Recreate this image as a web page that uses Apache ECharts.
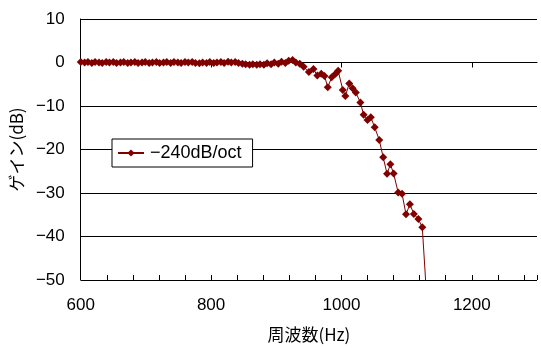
<!DOCTYPE html>
<html><head><meta charset="utf-8">
<script src="https://cdn.jsdelivr.net/npm/echarts@6/dist/echarts.min.js"></script>
<style>html,body{margin:0;padding:0;background:#fff}#c{width:541px;height:349px}</style>
</head><body><div id="c"></div>
<script>
const seriesName = '−240dB/oct';
const freqHz = [600,606,611,617,622,628,633,639,644,650,655,661,666,672,677,683,688,694,699,705,710,716,721,727,732,738,743,749,754,760,765,771,776,782,787,793,798,804,809,815,820,826,831,837,842,848,853,859,864,870,875,881,886,892,897,903,908,914,919,925,930,936,
942,950,957,963,969,974,979,985,991,995,1002,1006,1012,1017,1022,1029,1034,1040,1045,1051,1058,1064,1070,1075,1080,1087,1093,1099,1105,1111,1118,1124,1132];
const gainDb = [0.1,0.0,0.1,-0.1,0.1,0.0,-0.1,0.1,0.0,0.1,-0.1,0.0,0.1,-0.1,0.0,0.1,-0.1,0.0,0.1,-0.1,0.0,0.1,-0.1,0.0,0.1,-0.1,0.1,0.0,-0.1,0.1,0.0,0.1,-0.1,-0.2,0.0,-0.1,0.1,-0.1,0.0,0.1,-0.1,0.2,0.0,0.1,-0.1,-0.3,-0.4,-0.5,-0.4,-0.5,-0.4,-0.5,-0.2,-0.4,0.0,-0.3,0.2,-0.1,0.4,0.6,0.0,-0.3,
-1.0,-2.2,-1.5,-3.0,-2.6,-3.1,-5.7,-3.4,-2.6,-1.9,-6.3,-7.7,-4.8,-5.9,-6.9,-9.2,-12.0,-13.2,-12.6,-14.9,-17.8,-21.8,-25.6,-23.4,-25.5,-29.9,-30.2,-34.9,-32.6,-34.8,-36.0,-37.9,-57];
const xMajorTicks = [600,800,1000,1200];
const xName = '周波数(Hz)';
const yName = 'ゲイン(dB)';

const numFont = 'Liberation Sans, Arial, sans-serif';
const jpFont = 'Noto Sans CJK JP, sans-serif';
const chart = echarts.init(document.getElementById('c'), null, {renderer:'canvas'});
chart.setOption({
  animation:false,
  backgroundColor:'#fff',
  grid:{left:79,right:4,top:19,bottom:69},
  legend:{
    left:112, top:139, orient:'horizontal',
    padding:[5,11,5,5],
    backgroundColor:'#fff', borderColor:'#000', borderWidth:1, borderRadius:0,
    itemWidth:26, itemHeight:9, itemGap:6,
    textStyle:{fontFamily:numFont,fontSize:18,color:'#000',padding:[0,0,0,1]},
    data:[seriesName]
  },
  xAxis:[{
    type:'value', min:600, max:1300, interval:200,
    name:xName, nameLocation:'middle', nameGap:46,
    nameTextStyle:{fontFamily:jpFont,fontSize:17,color:'#000'},
    axisLine:{show:true,lineStyle:{color:'#000',width:1}},
    axisTick:{show:true,inside:false,length:5,customValues:xMajorTicks,lineStyle:{color:'#000'}},
    axisLabel:{customValues:xMajorTicks,margin:17,fontFamily:numFont,fontSize:17,color:'#000',
      formatter:v=>String(v)},
    splitLine:{show:false}
  },{
    type:'value', min:600, max:1300, interval:40, position:'bottom',
    axisLine:{show:false},
    axisTick:{show:true,inside:true,length:5,lineStyle:{color:'#000'}},
    axisLabel:{show:false}, splitLine:{show:false}
  }],
  yAxis:{
    type:'value', min:-50, max:10, interval:10,
    name:yName, nameLocation:'middle', nameGap:55, nameRotate:90,
    nameTextStyle:{fontFamily:jpFont,fontSize:17,color:'#000'},
    axisLine:{show:true,lineStyle:{color:'#000',width:1}},
    axisTick:{show:false},
    axisLabel:{margin:16,fontFamily:numFont,fontSize:17,color:'#000',
      formatter:v=>String(v).replace('-','−')},
    splitLine:{show:true,lineStyle:{color:'#000',width:1}}
  },
  series:[{
    name:seriesName, type:'line', xAxisIndex:0,
    data:freqHz.map((f,i)=>[f,gainDb[i]]),
    clip:true,
    symbol:'diamond', symbolSize:8, showAllSymbol:true,
    itemStyle:{color:'#800000'},
    lineStyle:{color:'#800000',width:1}
  }]
});
</script></body></html>
